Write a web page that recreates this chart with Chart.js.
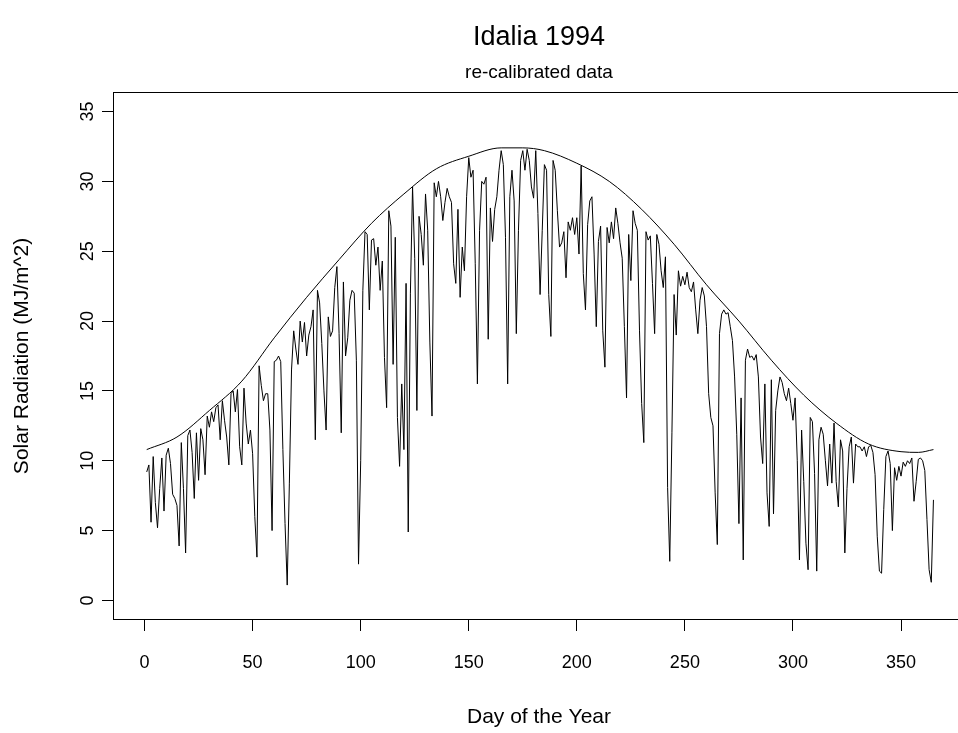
<!DOCTYPE html>
<html>
<head>
<meta charset="utf-8">
<title>Idalia 1994</title>
<script src="https://cdn.jsdelivr.net/npm/chart.js"></script>
<style>
  html, body { margin: 0; padding: 0; background: #fff; overflow: hidden; }
  #wrap { width: 958px; height: 733px; overflow: hidden; }
</style>
</head>
<body>
<div id="wrap"><canvas id="chart" width="980" height="733"></canvas></div>
<script>
// daily solar radiation, day 1..365 (MJ/m^2)
const radiation = [
  9.2, 9.7, 5.6, 10.3, 7.0, 5.2, 8.0, 10.2, 6.4, 10.4,
  10.9, 9.8, 7.6, 7.3, 6.8, 3.9, 11.3, 8.0, 3.4, 11.8,
  12.2, 10.6, 7.3, 12.0, 8.6, 12.3, 11.5, 9.0, 13.2, 12.4,
  13.5, 12.8, 13.8, 14.0, 11.5, 14.3, 12.9, 11.7, 9.7, 14.8,
  15.0, 13.5, 15.1, 11.0, 9.7, 15.2, 12.7, 11.2, 12.2, 10.5,
  6.0, 3.1, 16.8, 15.4, 14.3, 14.8, 14.8, 12.2, 5.0, 17.1,
  17.2, 17.5, 17.1, 10.8, 5.5, 1.1, 8.4, 16.5, 19.3, 18.0,
  16.9, 20.0, 18.5, 19.9, 17.5, 19.0, 19.6, 20.8, 11.5, 22.2,
  21.3, 18.4, 15.0, 12.2, 20.3, 18.9, 19.3, 22.4, 23.9, 19.1,
  12.0, 22.8, 17.5, 18.8, 21.5, 22.2, 22.0, 17.2, 2.6, 10.0,
  22.2, 26.4, 26.2, 20.8, 25.8, 25.9, 24.0, 25.3, 22.2, 24.3,
  17.4, 13.8, 27.9, 26.8, 16.9, 26.0, 13.1, 9.6, 15.5, 10.8,
  22.7, 4.9, 22.0, 29.6, 24.5, 13.6, 27.5, 26.2, 24.0, 29.1,
  26.5, 18.5, 13.2, 29.9, 28.9, 30.0, 28.9, 27.2, 28.5, 29.5,
  28.9, 28.5, 24.1, 22.7, 28.0, 21.7, 25.3, 23.6, 28.9, 31.7,
  30.3, 30.8, 24.1, 15.5, 26.5, 30.0, 29.8, 30.3, 18.7, 28.1,
  25.7, 28.0, 28.9, 30.8, 32.2, 31.2, 26.0, 15.5, 28.9, 30.8,
  28.6, 19.1, 26.5, 31.5, 32.2, 30.8, 32.3, 31.5, 29.6, 28.8,
  32.2, 27.7, 21.9, 26.5, 31.2, 30.8, 21.9, 18.9, 31.5, 30.8,
  27.9, 25.3, 25.6, 26.4, 23.1, 27.1, 26.5, 27.4, 26.2, 27.4,
  24.8, 31.1, 23.4, 20.8, 26.9, 28.6, 28.9, 24.8, 19.6, 25.7,
  26.8, 19.3, 16.7, 26.7, 25.6, 27.1, 25.9, 28.1, 27.0, 25.6,
  24.5, 19.6, 14.5, 26.2, 22.9, 27.9, 27.0, 26.5, 19.3, 14.1,
  11.3, 26.4, 25.8, 26.1, 22.7, 19.1, 26.2, 25.5, 23.6, 22.4,
  24.6, 8.1, 2.8, 12.0, 21.9, 19.0, 23.6, 22.5, 23.2, 22.6,
  23.5, 22.4, 22.1, 22.8, 20.8, 19.1, 21.5, 22.4, 21.8, 19.6,
  14.8, 13.1, 12.5, 7.7, 4.0, 19.1, 20.5, 20.8, 20.5, 20.6,
  19.6, 18.6, 16.0, 11.9, 5.5, 14.5, 2.9, 17.2, 18.0, 17.4,
  17.5, 17.2, 17.6, 16.0, 11.7, 9.8, 15.5, 7.7, 5.3, 15.8,
  6.2, 13.6, 15.0, 16.0, 15.6, 14.8, 14.3, 15.2, 14.1, 12.9,
  14.5, 10.0, 2.9, 12.2, 8.5, 4.1, 2.2, 13.1, 12.8, 9.1,
  2.1, 11.5, 12.4, 11.9, 10.0, 8.2, 11.2, 8.4, 12.7, 8.5,
  6.7, 11.5, 10.7, 3.4, 8.0, 11.0, 11.7, 8.4, 11.2, 11.0,
  11.0, 10.7, 11.0, 10.3, 11.0, 11.1, 10.6, 9.0, 4.6, 2.1,
  1.95, 6.5, 10.3, 10.7, 9.8, 5.0, 9.5, 8.6, 9.6, 8.9,
  9.9, 9.6, 10.0, 9.8, 10.2, 7.1, 8.5, 10.1, 10.2, 10.0,
  9.3, 5.8, 2.2, 1.3, 7.2
];

// clear sky envelope, read at a few days
const envDays = [1, 15, 30, 45, 60, 75, 90, 105, 120, 135, 150, 165, 175, 185, 200, 215, 230, 245, 260, 275, 290, 305, 320, 335, 350, 358, 365];
const envValues = [10.8, 11.7, 13.6, 15.7, 18.8, 21.7, 24.4, 27.0, 29.1, 30.9, 31.8, 32.4, 32.4, 32.2, 31.3, 30.0, 28.0, 25.5, 22.6, 20.0, 17.2, 14.7, 12.7, 11.2, 10.65, 10.6, 10.8];

const xTicks = [0, 50, 100, 150, 200, 250, 300, 350];
const yTicks = [0, 5, 10, 15, 20, 25, 30, 35];

const FONT = "'Liberation Sans', Arial, sans-serif";
Chart.defaults.font.family = FONT;
Chart.defaults.color = '#000';

// R style box round the plot region
const boxPlugin = {
  id: 'box',
  afterDraw(chart) {
    const { ctx, chartArea: a } = chart;
    ctx.save();
    ctx.strokeStyle = '#000';
    ctx.lineWidth = 1;
    ctx.strokeRect(Math.round(a.left) + 0.5, Math.round(a.top) + 0.5,
      Math.round(a.right - a.left), Math.round(a.bottom - a.top) - 1);
    ctx.restore();
  }
};

const dailyPoints = radiation.map((v, i) => ({ x: i + 1, y: v }));
const envPoints = envDays.map((d, i) => ({ x: d, y: envValues[i] }));

new Chart(document.getElementById('chart'), {
  type: 'line',
  data: {
    datasets: [
      {
        label: 'Solar radiation',
        data: dailyPoints,
        borderColor: '#000',
        borderWidth: 1,
        pointRadius: 0,
        tension: 0,
        fill: false
      },
      {
        label: 'Clear sky',
        data: envPoints,
        borderColor: '#000',
        borderWidth: 1,
        pointRadius: 0,
        cubicInterpolationMode: 'monotone',
        fill: false
      }
    ]
  },
  options: {
    responsive: false,
    animation: false,
    events: [],
    layout: { padding: { top: 0, right: 15, bottom: 0, left: 0 } },
    plugins: {
      legend: { display: false },
      tooltip: { enabled: false },
      title: {
        display: true,
        text: 'Idalia 1994',
        fullSize: false,
        color: '#000',
        font: { size: 27, weight: 'normal' },
        padding: { top: 21.8, bottom: 0 }
      },
      subtitle: {
        display: true,
        text: 're-calibrated data',
        fullSize: false,
        color: '#000',
        font: { size: 19, weight: 'normal' },
        padding: { top: 7.4, bottom: 7.6 }
      }
    },
    scales: {
      x: {
        type: 'linear',
        min: -14.6,
        max: 379.6,
        afterFit: s => { s.height = 113; },
        afterBuildTicks: s => { s.ticks = xTicks.map(v => ({ value: v })); },
        grid: { drawOnChartArea: false, drawTicks: true, tickLength: 11, color: '#000' },
        border: { display: false },
        ticks: { padding: 21, font: { size: 18 }, color: '#000', maxRotation: 0 },
        title: { display: true, text: 'Day of the Year', font: { size: 21 }, color: '#000', padding: { top: 0, bottom: 3.4 } }
      },
      y: {
        type: 'linear',
        min: -1.4,
        max: 36.4,
        afterFit: s => { s.width = 113; },
        afterBuildTicks: s => { s.ticks = yTicks.map(v => ({ value: v })); },
        grid: { drawOnChartArea: false, drawTicks: true, tickLength: 11, color: '#000' },
        border: { display: false },
        ticks: { padding: 4, font: { size: 18 }, color: '#000', minRotation: 90, maxRotation: 90, crossAlign: 'center' },
        title: { display: true, text: 'Solar Radiation (MJ/m^2)', font: { size: 21 }, color: '#000', padding: { top: 9.4, bottom: 0 } }
      }
    }
  },
  plugins: [boxPlugin]
});
</script>
</body>
</html>
